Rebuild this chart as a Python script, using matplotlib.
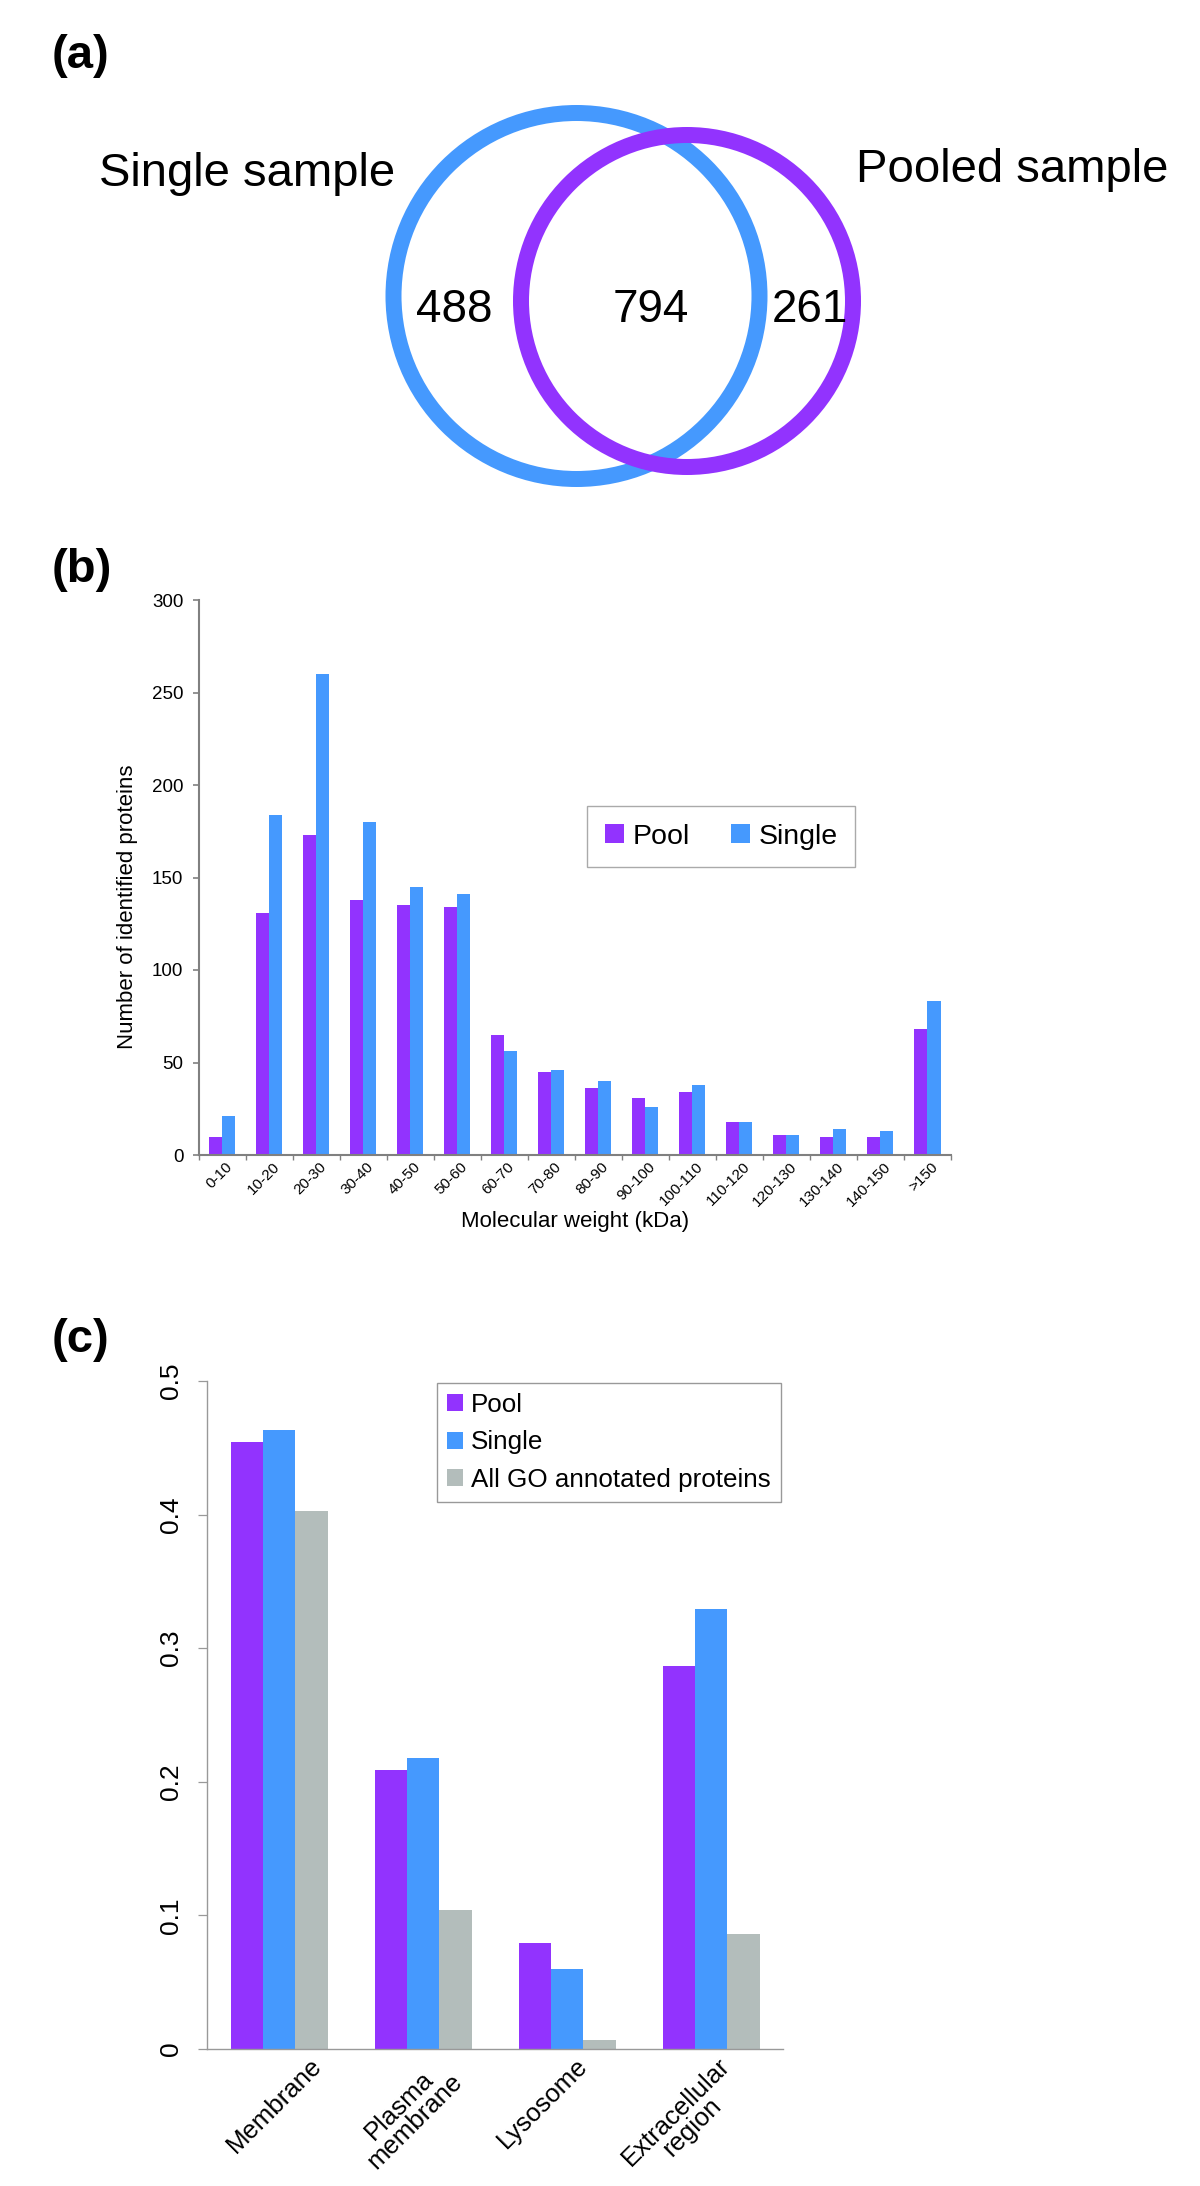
import matplotlib
matplotlib.use('Agg')
import matplotlib.pyplot as plt
from matplotlib.patches import Circle
import matplotlib.transforms as mtransforms
import numpy as np

plt.rcParams['font.family'] = ['Liberation Sans', 'DejaVu Sans']

# ---------------- data ----------------
# Panel (a): Venn diagram
venn_set_names = ['Single sample', 'Pooled sample']
venn_counts = [488, 794, 261]   # single only, shared, pooled only

# Panel (b): molecular weight distribution
mw_bins = ['0-10', '10-20', '20-30', '30-40', '40-50', '50-60', '60-70', '70-80',
           '80-90', '90-100', '100-110', '110-120', '120-130', '130-140', '140-150', '>150']
pool_counts = [10, 131, 173, 138, 135, 134, 65, 45, 36, 31, 34, 18, 11, 10, 10, 68]
single_counts = [21, 184, 260, 180, 145, 141, 56, 46, 40, 26, 38, 18, 11, 14, 13, 83]

# Panel (c): GO cellular component fractions
go_terms = ['Membrane', 'Plasma\nmembrane', 'Lysosome', 'Extracellular\nregion']
go_pool = [0.454, 0.209, 0.079, 0.287]
go_single = [0.463, 0.218, 0.060, 0.329]
go_all = [0.403, 0.104, 0.0065, 0.086]
series_names = ['Pool', 'Single', 'All GO annotated proteins']

PURPLE = '#9233FE'
BLUE = '#4599FE'
GREY = '#B3BDBB'

W, H = 1200, 2186
fig = plt.figure(figsize=(W / 100, H / 100), dpi=100)

# overlay axes in pixel coordinates (for Venn and panel letters)
ax0 = fig.add_axes([0, 0, 1, 1])
ax0.set_xlim(0, W)
ax0.set_ylim(H, 0)
ax0.axis('off')
ax0.set_zorder(-1)

# ---------------- panel (a) ----------------
lw_px = 16
ax0.add_patch(Circle((576.5, 296), 183, fill=False, ec=BLUE, lw=lw_px * 0.72))
ax0.add_patch(Circle((687, 301), 166, fill=False, ec=PURPLE, lw=lw_px * 0.72))
ax0.text(454, 322.5, str(venn_counts[0]), ha='center', va='baseline', fontsize=33)
ax0.text(651, 322.5, str(venn_counts[1]), ha='center', va='baseline', fontsize=33)
ax0.text(810, 322.5, str(venn_counts[2]), ha='center', va='baseline', fontsize=33)
ax0.text(247, 186.4, venn_set_names[0], ha='center', va='baseline', fontsize=34)
ax0.text(1012, 182, venn_set_names[1], ha='center', va='baseline', fontsize=34)

for lab, yb in [('(a)', 68), ('(b)', 582), ('(c)', 1352)]:
    ax0.text(52, yb, lab, ha='left', va='baseline', fontsize=34, fontweight='bold')

# ---------------- panel (b) ----------------
axb = fig.add_axes([198.7 / W, 1 - 1155 / H, (951 - 198.7) / W, (1155 - 600) / H])
x = np.arange(len(mw_bins))
bw = 0.277
axb.bar(x - bw / 2, pool_counts, bw, color=PURPLE, label='Pool')
axb.bar(x + bw / 2, single_counts, bw, color=BLUE, label='Single')
axb.set_xlim(-0.5, len(mw_bins) - 0.5)
axb.set_ylim(0, 300)
axb.set_yticks(np.arange(0, 301, 50))
for s in ['top', 'right']:
    axb.spines[s].set_visible(False)
for s in ['left', 'bottom']:
    axb.spines[s].set_color('#808080')
    axb.spines[s].set_linewidth(1.5)
axb.tick_params(axis='y', length=4.5, width=1.2, color='#808080', pad=6.5, labelsize=13.5)
axb.set_xticks(x)
axb.set_xticks(np.arange(-0.5, len(mw_bins), 1), minor=True)
axb.tick_params(axis='x', which='major', length=0, pad=3.5)
axb.tick_params(axis='x', which='minor', length=3.6, width=1.0, color='#808080')
axb.set_xticklabels(mw_bins, rotation=45, ha='right', va='top', fontsize=11)
off = mtransforms.ScaledTranslation(13 / 100, 0, fig.dpi_scale_trans)
for t in axb.get_xticklabels():
    t.set_transform(t.get_transform() + off)
fig.text(127 / W, 1 - 907 / H, 'Number of identified proteins', rotation=90,
         ha='center', va='center', fontsize=16)
fig.text(575 / W, 1 - 1222 / H, 'Molecular weight (kDa)', ha='center', va='center', fontsize=16)
legb = axb.legend(loc='upper left', bbox_to_anchor=(587 / W, 1 - 806 / H),
                  bbox_transform=fig.transFigure, ncol=2, fontsize=20.5,
                  handlelength=0.67, handleheight=0.67, handletextpad=0.3,
                  columnspacing=1.45, borderpad=0.62, borderaxespad=0,
                  fancybox=False, framealpha=1)
legb.get_frame().set_edgecolor('#AAAAAA')
legb.get_frame().set_linewidth(1.0)

# ---------------- panel (c) ----------------
axc = fig.add_axes([207.3 / W, 1 - 2049 / H, (783.3 - 207.3) / W, (2049 - 1381) / H])
xc = np.arange(len(go_terms))
cw = 0.224
axc.bar(xc - cw, go_pool, cw, color=PURPLE, label=series_names[0])
axc.bar(xc, go_single, cw, color=BLUE, label=series_names[1])
axc.bar(xc + cw, go_all, cw, color=GREY, label=series_names[2])
axc.set_xlim(-0.5, len(go_terms) - 0.5)
axc.set_ylim(0, 0.5)
axc.set_yticks(np.arange(0, 0.51, 0.1))
axc.set_yticklabels(['0', '0.1', '0.2', '0.3', '0.4', '0.5'], rotation=90, va='center')
for s in ['top', 'right']:
    axc.spines[s].set_visible(False)
for s in ['left', 'bottom']:
    axc.spines[s].set_color('#999999')
    axc.spines[s].set_linewidth(1.0)
axc.tick_params(axis='y', length=6.5, width=0.9, color='#999999', pad=11, labelsize=19)
label_shift = [-0.03, -0.11, -0.17, -0.19]
axc.set_xticks(xc + np.array(label_shift))
axc.set_xticklabels(go_terms, rotation=45, ha='center', va='top', fontsize=18.5,
                    multialignment='center', linespacing=0.92)
axc.tick_params(axis='x', length=0, pad=3.0)
legc = axc.legend(loc='upper left', bbox_to_anchor=(437 / W, 1 - 1383 / H),
                  bbox_transform=fig.transFigure, fontsize=18.7,
                  handlelength=0.63, handleheight=0.63, handletextpad=0.3,
                  labelspacing=0.52, borderpad=0.38, borderaxespad=0,
                  fancybox=False, framealpha=1)
legc.get_frame().set_edgecolor('#999999')
legc.get_frame().set_linewidth(1.0)

fig.savefig('out.png', dpi=100)
